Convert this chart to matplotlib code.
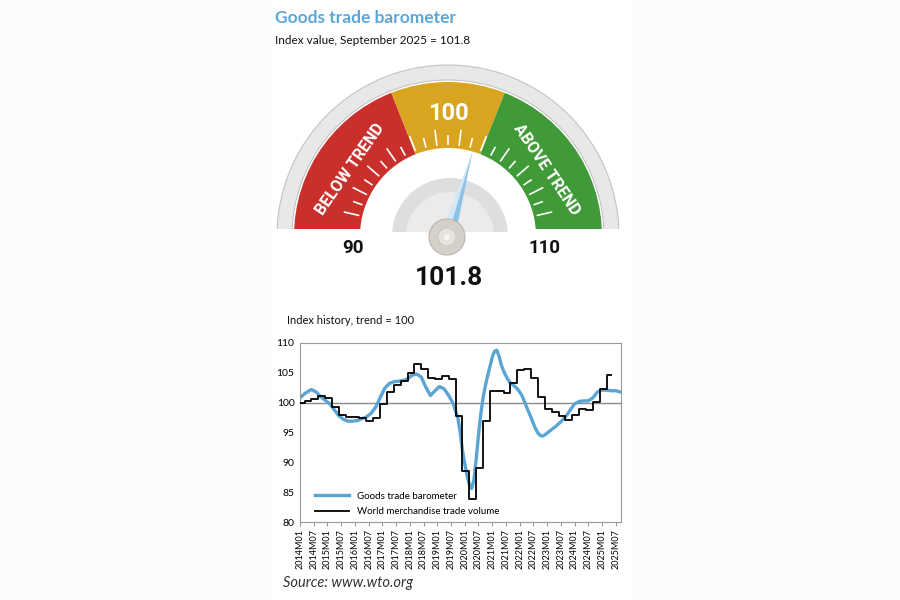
import numpy as np
import matplotlib.pyplot as plt
from matplotlib.patches import Wedge, Circle, Polygon, Rectangle

# ---- data ----
current_value = 101.8
gauge_min, gauge_max = 90, 110
zone_edges = [90, 97.6, 102.4, 110]
zone_colors = ["#c9302c", "#d9a521", "#3f9a37"]

tick_labels = ["2014M01", "2014M07", "2015M01", "2015M07", "2016M01", "2016M07",
               "2017M01", "2017M07", "2018M01", "2018M07", "2019M01", "2019M07",
               "2020M01", "2020M07", "2021M01", "2021M07", "2022M01", "2022M07",
               "2023M01", "2023M07", "2024M01", "2024M07", "2025M01", "2025M07"]

# goods trade barometer (monthly readings)
baro_months = ["2014M01", "2014M03", "2014M05", "2014M06", "2014M08", "2014M10", "2014M12",
               "2015M02", "2015M04", "2015M06", "2015M08", "2015M10", "2015M12",
               "2016M02", "2016M04", "2016M06", "2016M08", "2016M10", "2016M12",
               "2017M02", "2017M04", "2017M06", "2017M08", "2017M10", "2017M12",
               "2018M02", "2018M04", "2018M06", "2018M08", "2018M10", "2018M12",
               "2019M02", "2019M04", "2019M06", "2019M08", "2019M10", "2019M11", "2019M12",
               "2020M01", "2020M02", "2020M03", "2020M04", "2020M05", "2020M06", "2020M07",
               "2020M08", "2020M09", "2020M10", "2020M11", "2020M12", "2021M01", "2021M02",
               "2021M03", "2021M04", "2021M05", "2021M06", "2021M07", "2021M08", "2021M09",
               "2021M10", "2021M11", "2021M12", "2022M01", "2022M02", "2022M03", "2022M04",
               "2022M05", "2022M06", "2022M07", "2022M08", "2022M09", "2022M10", "2022M11",
               "2022M12", "2023M01", "2023M03", "2023M05", "2023M07", "2023M09", "2023M11",
               "2024M01", "2024M03", "2024M05", "2024M07", "2024M09", "2024M11",
               "2025M01", "2025M03", "2025M05", "2025M07", "2025M09"]
baro_values = [100.8, 101.5, 102.0, 102.2, 101.8, 101.0, 100.4,
               99.8, 98.8, 97.8, 97.2, 96.9, 96.9,
               97.0, 97.3, 97.6, 98.2, 99.2, 100.8,
               102.4, 103.2, 103.5, 103.6, 103.7, 104.0,
               104.6, 104.8, 104.3, 102.6, 101.2, 102.0,
               102.7, 102.3, 101.2, 99.8, 97.5, 95.0, 92.0,
               89.8, 87.8, 86.3, 85.6, 87.0, 90.5, 94.5,
               98.0, 100.8, 102.8, 104.5, 106.0, 107.6, 108.6,
               108.8, 107.8, 106.3, 105.3, 104.5, 103.8, 103.3,
               103.0, 102.7, 102.3, 101.8, 101.2, 100.3, 99.3,
               98.4, 97.5, 96.5, 95.6, 94.9, 94.5, 94.4,
               94.6, 94.9, 95.5, 96.1, 96.8, 97.6, 98.7,
               99.8, 100.2, 100.3, 100.3, 100.8, 101.8,
               102.1, 102.1, 102.0, 102.0, 101.8]

# world merchandise trade volume (quarterly)
vol_quarters = [f"{y}Q{q}" for y in range(2014, 2026) for q in range(1, 5)][:46]
vol_values = [100.0, 100.2, 100.6, 101.2, 100.8, 99.2, 98.0, 97.6,
              97.6, 97.5, 97.0, 97.5, 99.7, 101.8, 102.9, 103.6,
              105.0, 106.4, 105.6, 104.1, 104.0, 104.4, 103.9, 97.7,
              88.6, 83.8, 89.1, 96.9, 101.9, 101.9, 101.6, 103.3,
              105.5, 105.6, 104.2, 101.0, 98.9, 98.4, 97.8, 97.1,
              97.9, 99.0, 98.7, 100.1, 102.3, 104.6]


def month_index(label):
    return (int(label[:4]) - 2014) * 12 + int(label[5:]) - 1


def quarter_index(label):
    return (int(label[:4]) - 2014) * 4 + int(label[5]) - 1


def val_to_angle(v):
    return 180 - (v - gauge_min) / (gauge_max - gauge_min) * 180


plt.rcParams["font.family"] = ["Lato", "DejaVu Sans"]

fig = plt.figure(figsize=(9, 6), dpi=100, facecolor="#fcfcfc")
bg = fig.add_axes([0, 0, 1, 1])
bg.set_xlim(0, 900)
bg.set_ylim(600, 0)
bg.axis("off")
bg.add_patch(Rectangle((272, 0), 360, 600, fc="white", ec="none"))

bg.text(275, 18, "Goods trade barometer", fontsize=12.5, fontweight="bold",
        color="#5aa7d8", va="center")
bg.text(275, 40, "Index value, September 2025 = 101.8", fontsize=8.5,
        color="#111111", va="center")

# ---- gauge ----
cx, cy = 448, 236
clip = Rectangle((0, 0), 900, 229, transform=bg.transData)

ring = Wedge((cx, cy), 171, -185, 5, width=15, fc="#e8e8e8", ec="#c4c4c4", lw=0.8)
bg.add_patch(ring)
ring.set_clip_path(clip)

for i, col in enumerate(zone_colors):
    a1 = val_to_angle(zone_edges[i])
    a2 = val_to_angle(zone_edges[i + 1])
    if i == 0:
        a1 += 5
    if i == len(zone_colors) - 1:
        a2 -= 5
    w = Wedge((cx, cy), 154, -a1, -a2, width=66, fc=col, ec="none")
    bg.add_patch(w)
    w.set_clip_path(clip)

for k, a in enumerate(np.linspace(13, 167, 23)):
    r2 = 101 if k % 2 else 107
    t = np.radians(a)
    bg.plot([cx + 91 * np.cos(t), cx + r2 * np.cos(t)],
            [cy - 91 * np.sin(t), cy - r2 * np.sin(t)],
            color="white", lw=1.2, solid_capstyle="butt")

cond = dict(fontfamily=["Roboto", "DejaVu Sans"], fontweight="bold")
bg.text(cx, 113, "100", fontsize=17, color="white", ha="center", va="center", **cond)
bg.text(350, 169, "BELOW TREND", fontsize=11.5, color="white", ha="center",
        va="center", rotation=55, **cond)
bg.text(547, 170, "ABOVE TREND", fontsize=11.5, color="white", ha="center",
        va="center", rotation=-56, **cond)

bg.text(353, 248, "90", fontsize=13.5, color="#111111", ha="center", va="center", **cond)
bg.text(544, 248, "110", fontsize=13.5, color="#111111", ha="center", va="center", **cond)
bg.text(449, 278, "101.8", fontsize=19, color="#111111", ha="center", va="center", **cond)

dial = Wedge((450, 236), 58, -180, 0, fc="#dedede", ec="none")
bg.add_patch(dial)
dial.set_clip_path(Rectangle((0, 0), 900, 232, transform=bg.transData))
dial2 = Wedge((450, 236), 44, -180, 0, fc="#ebebeb", ec="none")
bg.add_patch(dial2)
dial2.set_clip_path(Rectangle((0, 0), 900, 232, transform=bg.transData))

na = np.radians(val_to_angle(current_value))
tip = (cx + 88 * np.cos(na), cy - 88 * np.sin(na))
px, py = 7 * np.sin(na), 7 * np.cos(na)
bg.add_patch(Polygon([tip, (cx - px, cy - py), (cx, cy)], fc="#d2e8f8", ec="none"))
bg.add_patch(Polygon([tip, (cx, cy), (cx + px, cy + py)], fc="#8ec1e6", ec="none"))

bg.add_patch(Circle((447, 237), 18, fc="#d6d0cb", ec="#bcb6b1", lw=0.8))
bg.add_patch(Circle((447, 237), 9, fc="#e6e2de", ec="#c8c2bd", lw=0.6))
bg.add_patch(Circle((447, 237), 3, fc="#f6f6f6", ec="none"))

# ---- history chart ----
bg.text(287, 321, "Index history, trend = 100", fontsize=8, color="#111111", va="center")
bg.text(283, 583, "Source: www.wto.org", fontsize=10.5, style="italic",
        color="#333333", va="center")

ax = fig.add_axes([300 / 900, 1 - 522 / 600, 321 / 900, 179 / 600])
ax.set_facecolor("white")

bx = [month_index(m) for m in baro_months]
vx = [max(3 * quarter_index(q) - 1, 0) for q in vol_quarters] + [136]
vy = vol_values + [vol_values[-1]]

ax.axhline(100, color="#8a8a8a", lw=1, zorder=1)
ax.plot(bx, baro_values, color="#5aa5d3", lw=2.4, label="Goods trade barometer", zorder=2)
ax.step(vx, vy, where="post", color="black", lw=1.3,
        label="World merchandise trade volume", zorder=3)

ax.set_xlim(0, 140.3)
ax.set_ylim(80, 110)
ax.set_yticks(range(80, 111, 5))
ax.set_xticks([month_index(t) for t in tick_labels])
ax.set_xticklabels(tick_labels, rotation=90, fontsize=6.5)
ax.tick_params(axis="y", labelsize=7.5, length=0, pad=4)
ax.tick_params(axis="x", length=3, color="#999999", pad=2)
for s in ax.spines.values():
    s.set_color("#999999")
    s.set_linewidth(0.8)

ax.legend(loc="lower left", frameon=False, fontsize=7, handlelength=3.5,
          bbox_to_anchor=(0.02, -0.015), labelspacing=0.65)

fig.savefig("out.png", dpi=100, facecolor=fig.get_facecolor())
